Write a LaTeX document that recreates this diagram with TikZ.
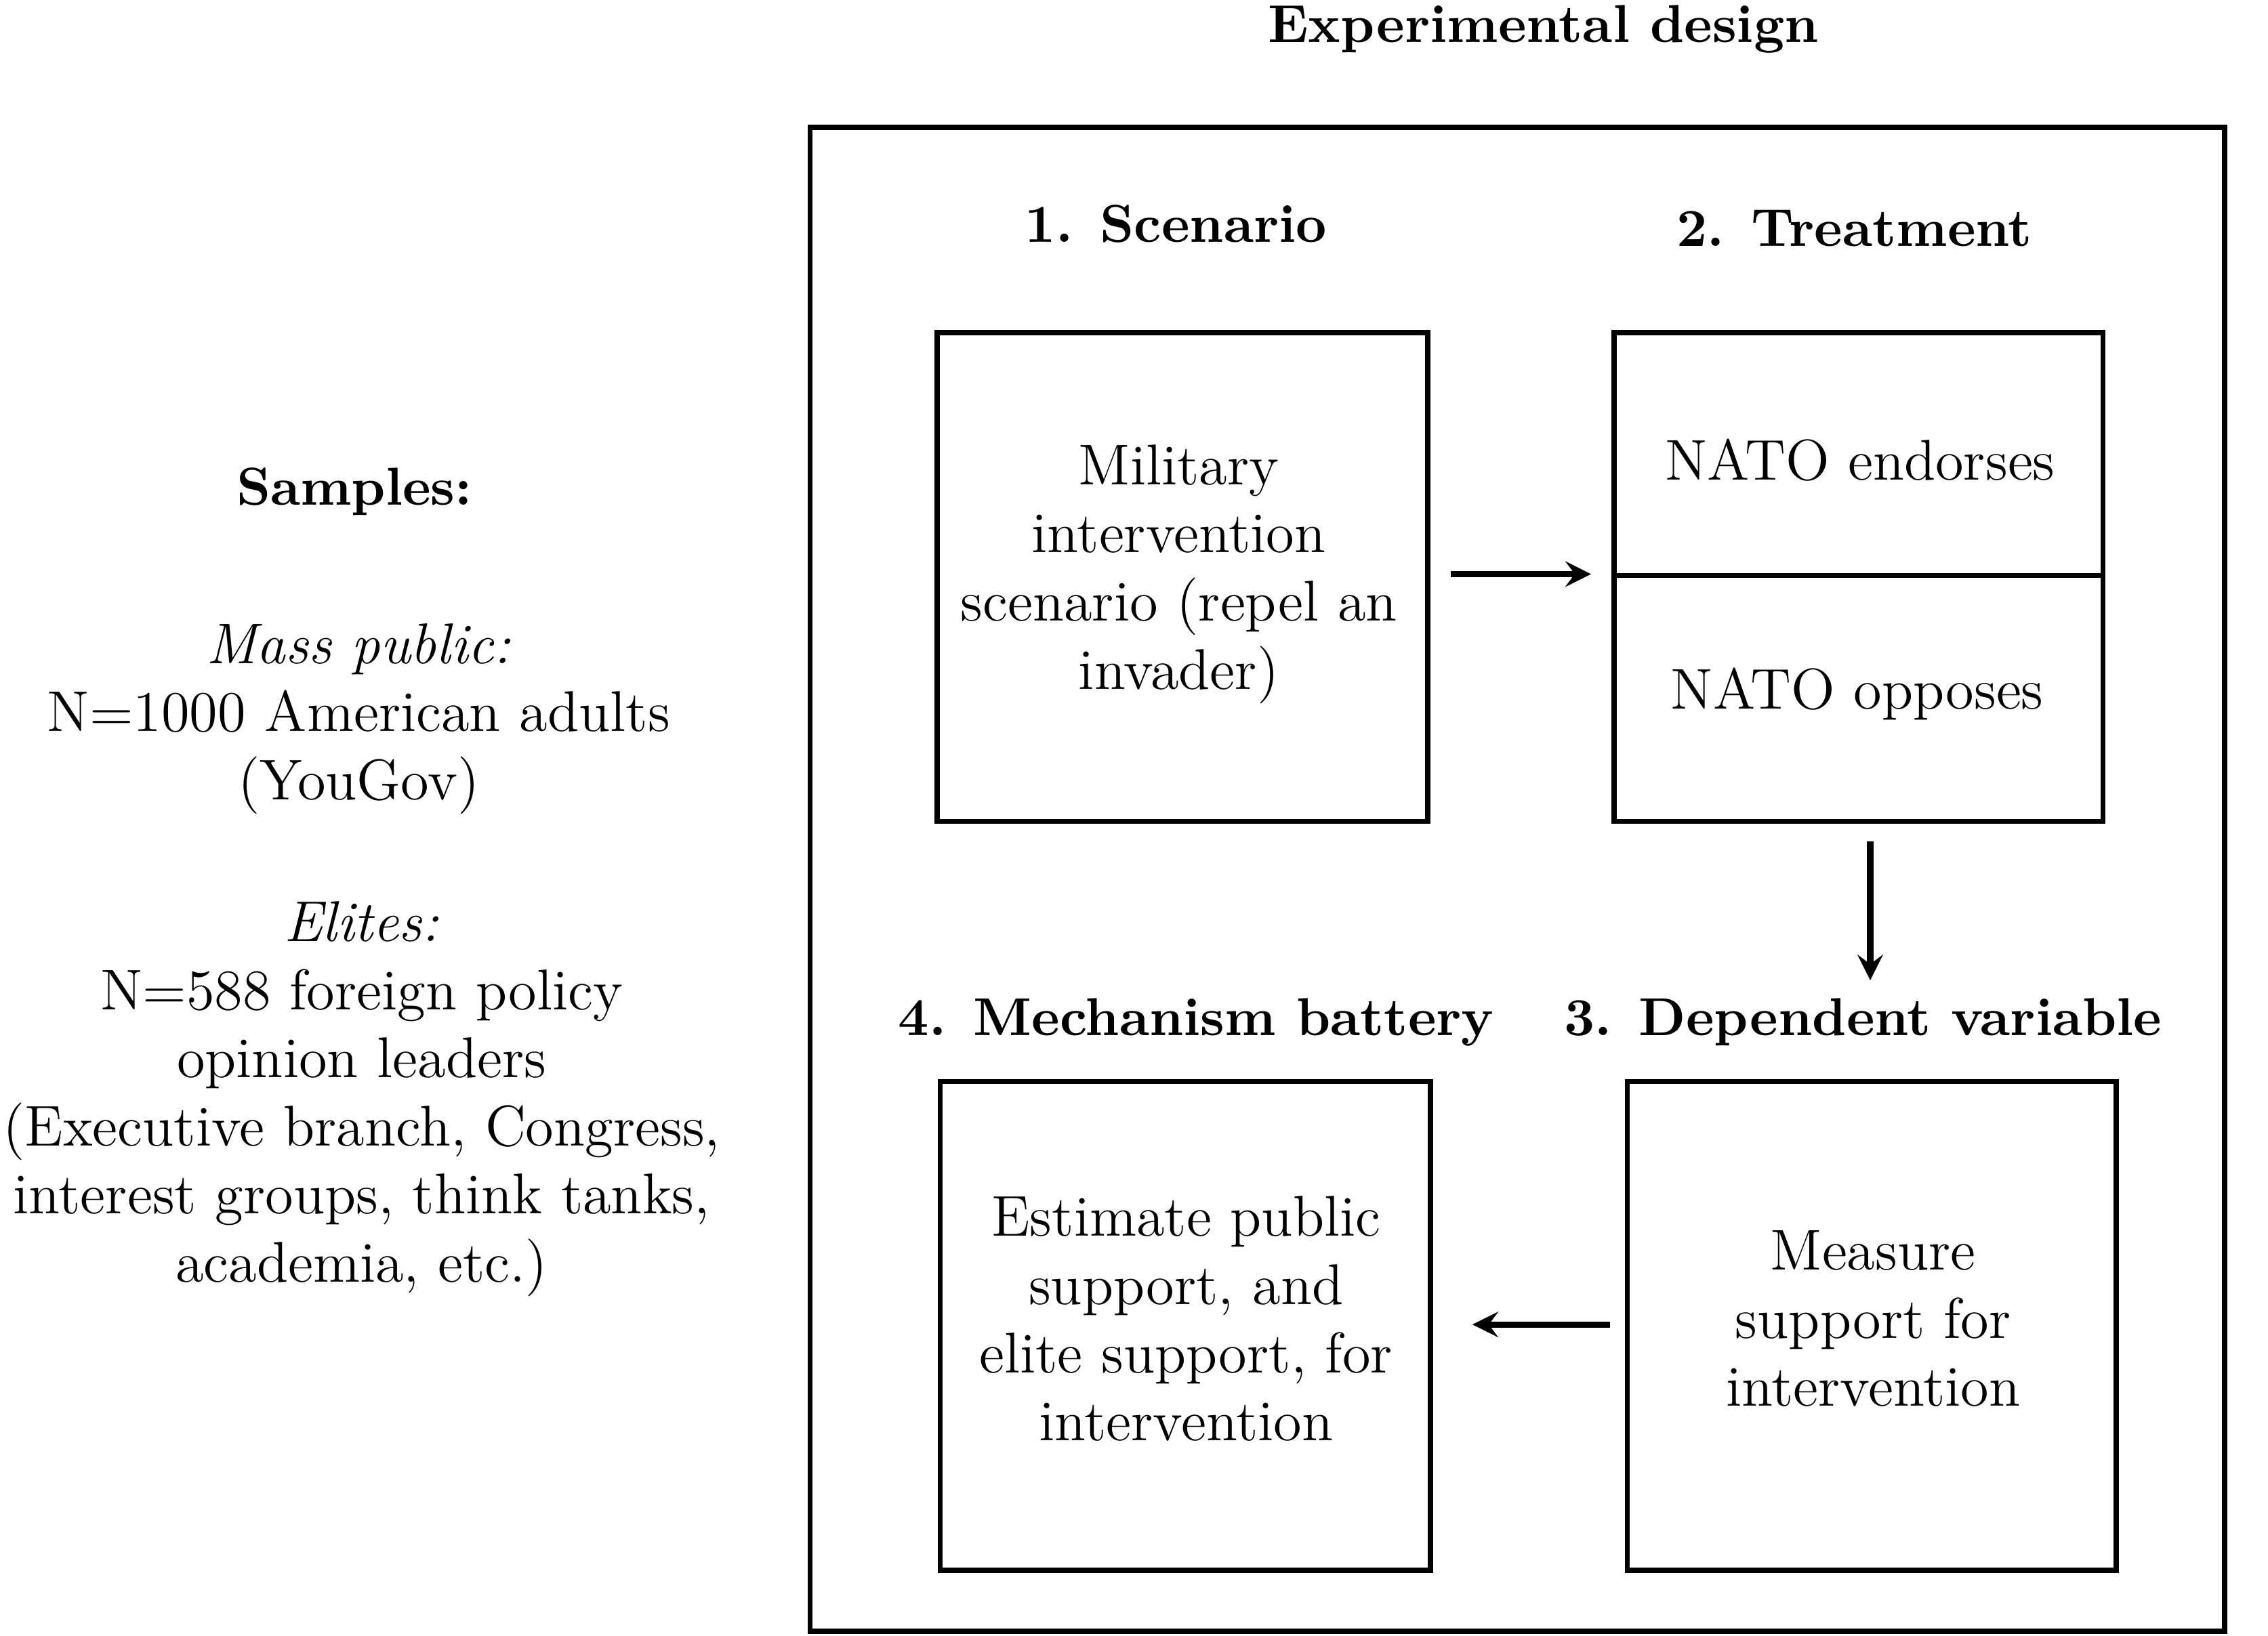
\documentclass[tikz,border=0pt]{standalone}
\usepackage{tikz}
\begin{document}
\begin{tikzpicture}[x=0.01cm,y=-0.01cm,
  box/.style={draw,line width=1pt},
  ttl/.style={font=\fontsize{10.5}{13}\selectfont\bfseries},
  txt/.style={font=\fontsize{11.3}{13.4}\selectfont,align=center},
  arr/.style={->,>=stealth,line width=1.2pt}]
\useasboundingbox (0,0) rectangle (1568,1131);
%Rahmen
\draw[box] (560,88) rectangle (1538,1128);
\node[ttl] (title) at (1067,20) {Experimental design};
%Kaesten
\draw[box] (648,230) rectangle (987,568);
\draw[box] (1116,230) rectangle (1454,568);
\draw[box] (1116,398) -- (1454,398);
\draw[box] (1125,748) rectangle (1463,1086);
\draw[box] (650,748) rectangle (989,1086);
%Ueberschriften
\node[ttl] (h1) at (813,155) {1. Scenario};
\node[ttl] (h2) at (1282,158) {2. Treatment};
\node[ttl] (h3) at (1288,707) {3. Dependent variable};
\node[ttl] (h4) at (827,707) {4. Mechanism battery};
%Texte
\node[txt] (scen) at (815,397) {Military\\intervention\\scenario (repel an\\invader)};
\node[txt] (endo) at (1286,318) {NATO endorses};
\node[txt] (oppo) at (1284,480) {NATO opposes};
\node[txt] (meas) at (1295,912) {Measure\\support for\\intervention};
\node[txt] (esti) at (820,912) {Estimate public\\support, and\\elite support, for\\intervention};
%Pfeile
\coordinate (a1) at (1003,397); \coordinate (b1) at (1100,397);
\coordinate (a2) at (1293,582); \coordinate (b2) at (1293,678);
\coordinate (a3) at (1113,916); \coordinate (b3) at (1018,916);
\draw[arr] (a1) -- (b1);
\draw[arr] (a2) -- (b2);
\draw[arr] (a3) -- (b3);
%Stichproben
\node[ttl] (samp) at (245,340) {Samples:};
\node[txt] (mass) at (248,497) {\itshape Mass public:\\N=1000 American adults\\(YouGov)};
\node[txt] (elit) at (250,760) {\itshape Elites:\\N=588 foreign policy\\opinion leaders\\(Executive branch, Congress,\\interest groups, think tanks,\\academia, etc.)};
\end{tikzpicture}
\end{document}
